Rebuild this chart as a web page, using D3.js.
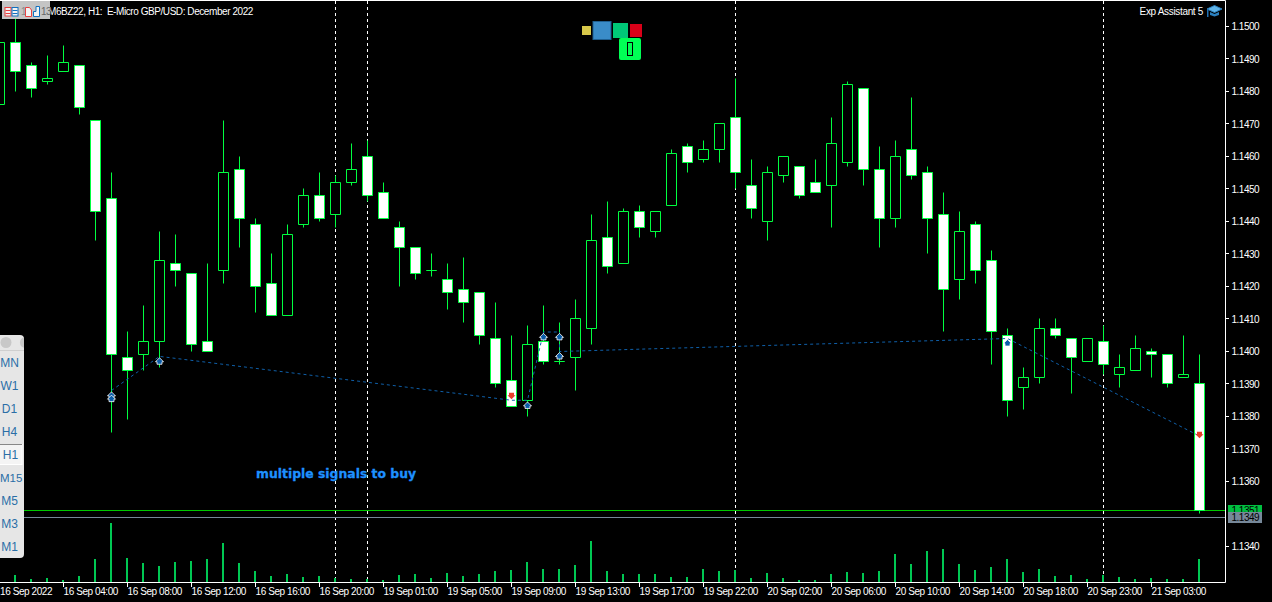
<!DOCTYPE html>
<html><head><meta charset="utf-8">
<script src="https://cdn.jsdelivr.net/npm/d3@7"></script>
<style>
html,body{margin:0;padding:0;background:#000;overflow:hidden}
svg{display:block}
text{font-family:"Liberation Sans",Arial,sans-serif}
</style></head><body>
<svg id="c" width="1272" height="602"></svg>
<script>
const barIndex = d3.range(-1, 75);
const opens = [1.1476,1.1495,1.1488,1.1483,1.1486,1.1488,1.1471,1.1447,1.1398,1.1399,1.1403,1.1427,1.1424,1.1403,1.1425,1.1456,1.1439,1.1421,1.1411,1.1439,1.1448,1.1442,1.1452,1.1460,1.1449,1.1438,1.1432,1.1425,1.1422,1.1419,1.1418,1.1404,1.1391,1.1385,1.1403,1.1397,1.1398,1.1407,1.1435,1.1427,1.1443,1.1437,1.1445,1.1463,1.1459,1.1462,1.1472,1.1451,1.1440,1.1454,1.1457,1.1452,1.1451,1.1458,1.1481,1.1456,1.1441,1.1462,1.1455,1.1442,1.1422,1.1439,1.1428,1.1405,1.1389,1.1392,1.1407,1.1404,1.1397,1.1403,1.1393,1.1394,1.1400,1.1399,1.1392,1.1390];
const highs = [1.1495,1.1503,1.1489,1.1491,1.1494,1.1488,1.1471,1.1455,1.1406,1.1414,1.1437,1.1436,1.1424,1.1427,1.1471,1.1460,1.1441,1.1430,1.1439,1.1450,1.1455,1.1454,1.1464,1.1465,1.1452,1.1440,1.1432,1.1430,1.1427,1.1429,1.1418,1.1415,1.1405,1.1408,1.1414,1.1409,1.1416,1.1442,1.1446,1.1444,1.1445,1.1443,1.1462,1.1464,1.1465,1.1470,1.1484,1.1459,1.1457,1.1460,1.1457,1.1459,1.1472,1.1483,1.1481,1.1463,1.1465,1.1478,1.1457,1.1449,1.1443,1.1440,1.1431,1.1407,1.1395,1.1410,1.1410,1.1404,1.1404,1.1408,1.1399,1.1405,1.1401,1.1399,1.1405,1.1399];
const lows = [1.1476,1.1480,1.1478,1.1482,1.1486,1.1473,1.1434,1.1375,1.1379,1.1394,1.1395,1.1420,1.1400,1.1400,1.1421,1.1432,1.1412,1.1411,1.1411,1.1438,1.1440,1.1438,1.1451,1.1446,1.1441,1.1420,1.1422,1.1423,1.1413,1.1409,1.1402,1.1389,1.1383,1.1380,1.1396,1.1396,1.1388,1.1402,1.1424,1.1427,1.1435,1.1435,1.1445,1.1455,1.1458,1.1458,1.1450,1.1441,1.1434,1.1452,1.1447,1.1449,1.1438,1.1457,1.1451,1.1432,1.1438,1.1453,1.1430,1.1406,1.1416,1.1421,1.1396,1.1380,1.1382,1.1390,1.1404,1.1387,1.1397,1.1393,1.1389,1.1394,1.1392,1.1389,1.1392,1.1350];
const closes = [1.1495,1.1486,1.1481,1.1484,1.1489,1.1475,1.1443,1.1399,1.1394,1.1403,1.1428,1.1425,1.1402,1.1400,1.1455,1.1441,1.1420,1.1411,1.1436,1.1448,1.1441,1.1452,1.1456,1.1448,1.1441,1.1432,1.1424,1.1425,1.1418,1.1415,1.1405,1.1390,1.1383,1.1402,1.1397,1.1397,1.1410,1.1434,1.1426,1.1443,1.1438,1.1443,1.1461,1.1458,1.1462,1.1470,1.1455,1.1444,1.1455,1.1460,1.1448,1.1449,1.1464,1.1482,1.1456,1.1441,1.1460,1.1454,1.1441,1.1419,1.1437,1.1425,1.1406,1.1385,1.1392,1.1407,1.1405,1.1398,1.1404,1.1396,1.1395,1.1401,1.1399,1.1390,1.1393,1.1351];
const volumes = [0,7,3,4,2,6,23,59,24,19,16,20,21,23,39,19,11,6,8,5,6,4,3,3,2,7,8,4,9,6,8,11,12,20,13,13,17,41,11,8,8,8,5,5,13,11,12,4,9,4,2,2,8,10,9,11,28,18,31,33,18,12,15,23,10,13,6,7,3,7,5,3,4,3,3,23];
const priceTicks = [1.150,1.149,1.148,1.147,1.146,1.145,1.144,1.143,1.142,1.141,1.140,1.139,1.138,1.137,1.136,1.134];
const timeTickIndex = [3,7,11,15,19,23,27,31,35,39,43,47,51,55,59,63,67,71];
const timeTickLabels = ["16 Sep 04:00","16 Sep 08:00","16 Sep 12:00","16 Sep 16:00","16 Sep 20:00","19 Sep 01:00","19 Sep 05:00","19 Sep 09:00","19 Sep 13:00","19 Sep 17:00","19 Sep 22:00","20 Sep 02:00","20 Sep 06:00","20 Sep 10:00","20 Sep 14:00","20 Sep 18:00","20 Sep 23:00","21 Sep 03:00"];
const firstDateLabel = "16 Sep 2022";
const separatorIndex = [20,22,45,68];
const tradePathIndex = [6,9,31,32,33,34,34,62,74];
const tradePathPrice = [1.1388,1.13985,1.1385,1.1385,1.1406,1.1406,1.1400,1.1404,1.1374];
const signalIndex = [6,6,9,32,33,34,34,62,31,74];
const signalPrice = [1.13865,1.13855,1.1397,1.13834,1.14045,1.14045,1.13986,1.14026,1.13864,1.13744];
const signalSide = ["buy","buy","buy","buy","buy","buy","buy","buy","sell","sell"];
const bidPrice = 1.1351, askPrice = 1.1349;
const timeframes = ["MN","W1","D1","H4","H1","M15","M5","M3","M1"];
const symbolTitle = "M6BZ22, H1:  E-Micro GBP/USD: December 2022";

const svg = d3.select("#c");
const GREEN = "#00ff40", RIGHT = 1225.5, BOTTOM = 582.5;
const x = d3.scaleLinear().domain([0,74]).range([15.5,1199.5]);
const y = d3.scaleLinear().domain([1.134,1.150]).range([546.5,26.5]);
const vol = d3.scaleLinear().domain([0,59]).range([582,523]);
const snap = v => Math.floor(v)+0.5;
const textStyle = (s,size,ls) => s.attr("font-size",size).attr("letter-spacing",ls);

// separators
svg.append("g").selectAll("line").data(separatorIndex).join("line")
  .attr("x1",d=>x(d)).attr("x2",d=>x(d)).attr("y1",1).attr("y2",582)
  .attr("stroke","#fff").attr("stroke-dasharray","3,3");

// volumes
svg.append("g").selectAll("rect").data(volumes).join("rect")
  .attr("x",(d,i)=>x(barIndex[i])-1.5).attr("width",2)
  .attr("y",d=>vol(d)).attr("height",d=>582-vol(d)).attr("fill","#00c853");

// price lines
svg.append("line").attr("x1",0).attr("x2",RIGHT).attr("y1",snap(y(bidPrice))).attr("y2",snap(y(bidPrice))).attr("stroke","#00c800");
svg.append("line").attr("x1",0).attr("x2",RIGHT).attr("y1",snap(y(askPrice))).attr("y2",snap(y(askPrice))).attr("stroke","#778899");

// candles
const candles = svg.append("g");
barIndex.forEach((b,i)=>{
  const cx = x(b), top = snap(y(Math.max(opens[i],closes[i]))), bot = snap(y(Math.min(opens[i],closes[i])));
  candles.append("line").attr("x1",cx).attr("x2",cx).attr("y1",snap(y(highs[i]))).attr("y2",snap(y(lows[i]))).attr("stroke",GREEN);
  candles.append("path").attr("d",`M${cx-5} ${top}H${cx+5}V${bot}H${cx-5}Z`)
    .attr("fill",closes[i]<opens[i]?"#fff":"#000").attr("stroke",GREEN);
});

// trade path
svg.append("path").attr("d",d3.line().x(d=>x(d[0])).y(d=>y(d[1]))(d3.zip(tradePathIndex,tradePathPrice)))
  .attr("fill","none").attr("stroke","#0f5fa8").attr("stroke-dasharray","3,3");

// signals
const arrowUp = "M0,-3.5L4,0.5L2.5,0.5L2.5,3L-2.5,3L-2.5,0.5L-4,0.5Z";
svg.append("g").selectAll("path").data(d3.zip(signalIndex,signalPrice,signalSide)).join("path")
  .attr("d",arrowUp)
  .attr("transform",d=>`translate(${x(d[0])},${y(d[1])})${d[2]==="sell"?" scale(1,-1)":""}`)
  .attr("fill",d=>d[2]==="sell"?"#e8402a":"#0a5ca8")
  .attr("stroke",d=>d[2]==="sell"?"none":"#fff").attr("stroke-width",0.8);

// frame
svg.append("path").attr("d",`M0 0.5H${RIGHT}V${BOTTOM}H0`).attr("fill","none").attr("stroke","#fff");

// axes
const py = svg.append("g");
priceTicks.forEach(p=>{
  py.append("line").attr("x1",RIGHT).attr("x2",1229).attr("y1",snap(y(p))).attr("y2",snap(y(p))).attr("stroke","#fff");
  py.append("text").attr("x",1231.5).attr("y",y(p)+3.5).attr("fill","#fff").text(p.toFixed(4)).call(textStyle,10,"-0.5px");
});
const tx = svg.append("g");
timeTickIndex.forEach((t,i)=>{
  tx.append("line").attr("x1",x(t)).attr("x2",x(t)).attr("y1",BOTTOM).attr("y2",587).attr("stroke","#fff");
  tx.append("text").attr("x",x(t)).attr("y",595).attr("fill","#fff").text(timeTickLabels[i]).call(textStyle,10,"-0.42px");
});
svg.append("text").attr("x",0).attr("y",595).attr("fill","#fff").text(firstDateLabel).call(textStyle,10,"-0.42px");

// current price labels
svg.append("rect").attr("x",1228).attr("y",505).attr("width",34).attr("height",11).attr("fill","#00c040");
svg.append("text").attr("x",1231.5).attr("y",514).attr("fill","#000").text(bidPrice.toFixed(4)).call(textStyle,10,"-0.5px");
svg.append("rect").attr("x",1228).attr("y",512).attr("width",34).attr("height",11).attr("fill","#778899");
svg.append("text").attr("x",1231.5).attr("y",521).attr("fill","#000").text(askPrice.toFixed(4)).call(textStyle,10,"-0.5px");

// titles
svg.append("text").attr("x",48).attr("y",15).attr("fill","#fff").style("white-space","pre").text(symbolTitle).call(textStyle,10,"-0.43px");
svg.append("text").attr("x",1203).attr("y",15).attr("text-anchor","end").attr("fill","#fff").text("Exp Assistant 5").call(textStyle,10,"-0.33px");

// graduation hat
const hat = svg.append("g");
hat.append("path").attr("d","M1207 9L1214.5 5.5L1222 9L1214.5 12.5Z").attr("fill","#5fb4e8").attr("stroke","#2a80c0");
hat.append("path").attr("d","M1210 12V15L1214.5 16.5L1219 15V12L1214.5 14Z").attr("fill","#2a80c0");
hat.append("rect").attr("x",1207).attr("y",9).attr("width",1.5).attr("height",8).attr("fill","#1f6fb0");

// top toolbar
const tb = svg.append("g");
tb.append("rect").attr("x",2).attr("y",1).attr("width",48).attr("height",18).attr("fill","#c4c4c4");
tb.append("text").attr("x",21).attr("y",15).attr("fill","#8a8a8a").text("1").call(textStyle,10,"0");
tb.append("text").attr("x",41).attr("y",15).attr("fill","#666").text("13").call(textStyle,10,"-0.5px");
[[4.5,"#e84040"],[11.5,"#1070c0"]].forEach(([bx,c])=>{
  tb.append("rect").attr("x",bx+.5).attr("y",7.5).attr("width",6).attr("height",8.5).attr("fill","#f4f4f4").attr("stroke",c);
  [10.5,13.5].forEach(ly=>tb.append("line").attr("x1",bx+1).attr("x2",bx+6).attr("y1",ly).attr("y2",ly).attr("stroke",c));
});
tb.append("path").attr("d","M25.5 7.5H29.5L31.5 10V16.5H25.5Z").attr("fill","#f4f4f4").attr("stroke","#e84040");
tb.append("path").attr("d","M33.5 11.5H36V6.5H39.5V16.5H33.5Z").attr("fill","#f4f4f4").attr("stroke","#1070c0");

// centre objects
const co = svg.append("g");
co.append("rect").attr("x",582).attr("y",26).attr("width",9).attr("height",9).attr("fill","#d8c84a");
co.append("rect").attr("x",593).attr("y",21.5).attr("width",18).attr("height",18).attr("fill","#3a8cc8").attr("stroke","#1f5f90");
co.append("rect").attr("x",613).attr("y",23).attr("width",15).attr("height",15).attr("fill","#00c878");
co.append("rect").attr("x",630).attr("y",24).attr("width",12).attr("height",13).attr("fill","#d80018");
co.append("rect").attr("x",619).attr("y",38).attr("width",22).attr("height",22).attr("rx",2).attr("fill","#00ff55");
co.append("rect").attr("x",627.5).attr("y",42.5).attr("width",5).attr("height",13).attr("fill","#00ff55").attr("stroke","#000");

// annotation
svg.append("text").attr("x",256).attr("y",478).attr("fill","#1e90ff").attr("stroke","#1e90ff").attr("stroke-width",0.3).attr("font-weight","bold")
  .style("font-family","'DejaVu Sans',sans-serif").text("multiple signals to buy").call(textStyle,12.4,"0");

// timeframe panel
const tf = svg.append("g");
tf.append("path").attr("d","M0 335H20Q24 335 24 339V554Q24 558 20 558H0Z").attr("fill","#e6e6e6");
tf.append("circle").attr("cx",6).attr("cy",342.5).attr("r",5.5).attr("fill","#c8c8c8");
tf.append("path").attr("d","M24 337.2A5.5 5.5 0 0 0 24 347.8Z").attr("fill","#c8c8c8");
tf.append("line").attr("x1",0).attr("x2",24).attr("y1",350.5).attr("y2",350.5).attr("stroke","#cfcfcf");
tf.append("rect").attr("x",-1).attr("y",444.5).attr("width",23).attr("height",20).attr("fill","#f4f4f4").attr("stroke","#fff");
tf.append("line").attr("x1",0).attr("x2",22).attr("y1",444.5).attr("y2",444.5).attr("stroke","#888");
timeframes.forEach((t,i)=>{
  tf.append("text").attr("x",t==="H1"?10.5:t==="M15"?11.2:9.5).attr("y",362.7+i*23+4.5).attr("text-anchor","middle")
    .attr("fill","#2a6ea6").text(t).call(textStyle,t==="M15"?11.5:12,"0");
});
</script>
</body></html>
